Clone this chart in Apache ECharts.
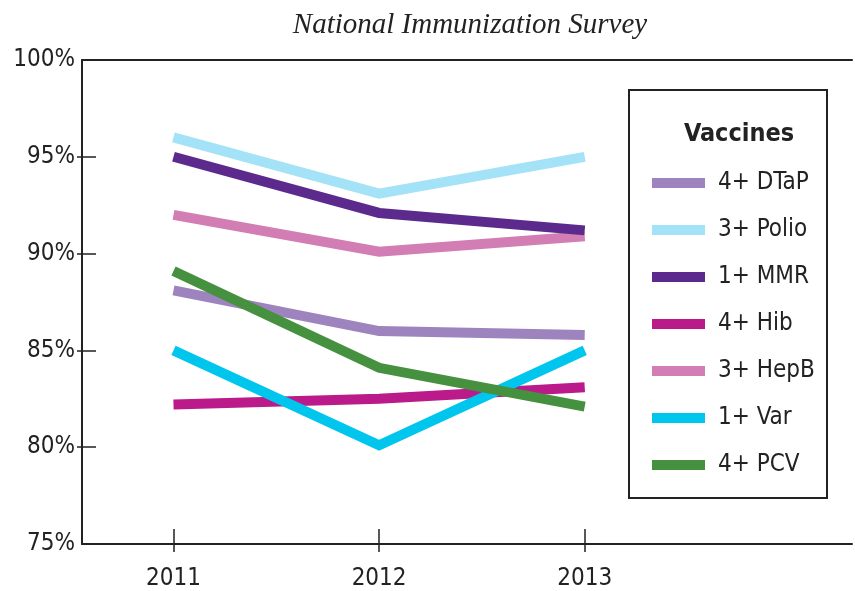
<!DOCTYPE html>
<html>
<head>
<meta charset="utf-8">
<script src="https://cdn.jsdelivr.net/npm/echarts@6/dist/echarts.min.js"></script>
<style>
  html, body { margin: 0; padding: 0; background: #fff; }
  #chart { width: 855px; height: 591px; }
</style>
</head>
<body>
<div id="chart"></div>
<script>
// values, percent
let years = [2011, 2012, 2013];
let seriesNames = ['4+ DTaP', '3+ Polio', '1+ MMR', '4+ Hib', '3+ HepB', '1+ Var', '4+ PCV'];
let dtap  = [88.1, 86.0, 85.8];
let polio = [96.0, 93.1, 95.0];
let mmr   = [95.0, 92.1, 91.2];
let hib   = [82.2, 82.5, 83.1];
let hepb  = [92.0, 90.1, 90.9];
let vari  = [85.0, 80.1, 85.0];
let pcv   = [89.1, 84.1, 82.1];
let yTicks = [75, 80, 85, 90, 95, 100];

let colors = ['#9e84be', '#a3e2f7', '#5c2a8c', '#bb1a8a', '#d27db4', '#00c6ee', '#46913f'];
let values = [dtap, polio, mmr, hib, hepb, vari, pcv];
let font = "'Liberation Sans Narrow', 'DejaVu Sans Condensed', 'Noto Sans', sans-serif";

let dom = document.getElementById('chart');
let myChart = echarts.init(dom);

let series = seriesNames.map(function (name, i) {
    return {
        name: name,
        type: 'line',
        xAxisIndex: 0,
        yAxisIndex: 0,
        showSymbol: false,
        symbol: 'none',
        color: colors[i],
        lineStyle: { width: 10, color: colors[i], cap: 'butt', join: 'miter' },
        data: years.map(function (y, j) { return [y, values[i][j]]; }),
        z: 2 + i
    };
});
// MMR drawn over HepB like the original
series[2].z = 9;

let option = {
    animation: false,
    backgroundColor: '#fff',
    title: [{
        text: 'National Immunization Survey',
        left: 465, top: 6, textAlign: 'center',
        textStyle: { fontFamily: "'Liberation Serif', 'DejaVu Serif', serif", fontStyle: 'italic', fontWeight: 'normal', fontSize: 29, color: '#222' }
    }, {
        text: 'Vaccines',
        left: 734, top: 117, textAlign: 'center',
        textStyle: { fontFamily: font, fontWeight: 'bold', fontSize: 25, color: '#222' }
    }],
    legend: {
        orient: 'vertical',
        left: 647, top: 166,
        icon: 'rect',
        itemWidth: 53, itemHeight: 10, itemGap: 23,
        data: seriesNames,
        textStyle: { fontFamily: font, fontSize: 24, color: '#222', padding: [0, 0, 0, 8] }
    },
    graphic: [{
        type: 'rect',
        shape: { x: 629, y: 90, width: 198, height: 408 },
        style: { fill: 'none', stroke: '#222', lineWidth: 2 },
        z: 1
    }],
    grid: { left: 82, top: 60, right: 3, bottom: 46 },
    xAxis: [{
        type: 'value', min: 2010.555, max: 2014.3,
        position: 'bottom',
        axisLine: { lineStyle: { color: '#222', width: 2 } },
        axisTick: { inside: true, length: 15, lineStyle: { color: '#222', width: 1.5 }, customValues: years },
        axisLabel: { customValues: years, formatter: function (v) { return String(v); }, margin: 23, fontFamily: font, fontSize: 24, color: '#222' },
        splitLine: { show: false }
    }, {
        type: 'value', min: 2010.555, max: 2014.3,
        position: 'bottom',
        axisLine: { show: false },
        axisTick: { inside: false, length: 8, lineStyle: { color: '#222', width: 1.5 }, customValues: years },
        axisLabel: { show: false },
        splitLine: { show: false }
    }, {
        type: 'value', min: 2010.555, max: 2014.3,
        position: 'top',
        axisLine: { show: true, lineStyle: { color: '#222', width: 2 } },
        axisTick: { show: false },
        axisLabel: { show: false },
        splitLine: { show: false }
    }],
    yAxis: [{
        type: 'value', min: 75, max: 100, interval: 5,
        position: 'left',
        axisLine: { show: true, lineStyle: { color: '#222', width: 2 } },
        axisTick: { show: true, inside: true, length: 14, lineStyle: { color: '#222', width: 1.5 }, customValues: yTicks.slice(1, 5) },
        axisLabel: { formatter: '{value}%', margin: 7, fontFamily: font, fontSize: 24, color: '#222' },
        splitLine: { show: false }
    }, {
        type: 'value', min: 75, max: 100, interval: 5,
        position: 'left',
        axisLine: { show: false },
        axisTick: { show: true, inside: false, length: 5, lineStyle: { color: '#222', width: 1.5 }, customValues: yTicks.slice(1, 5) },
        axisLabel: { show: false },
        splitLine: { show: false }
    }],
    series: series
};

myChart.setOption(option, true);
</script>
</body>
</html>
